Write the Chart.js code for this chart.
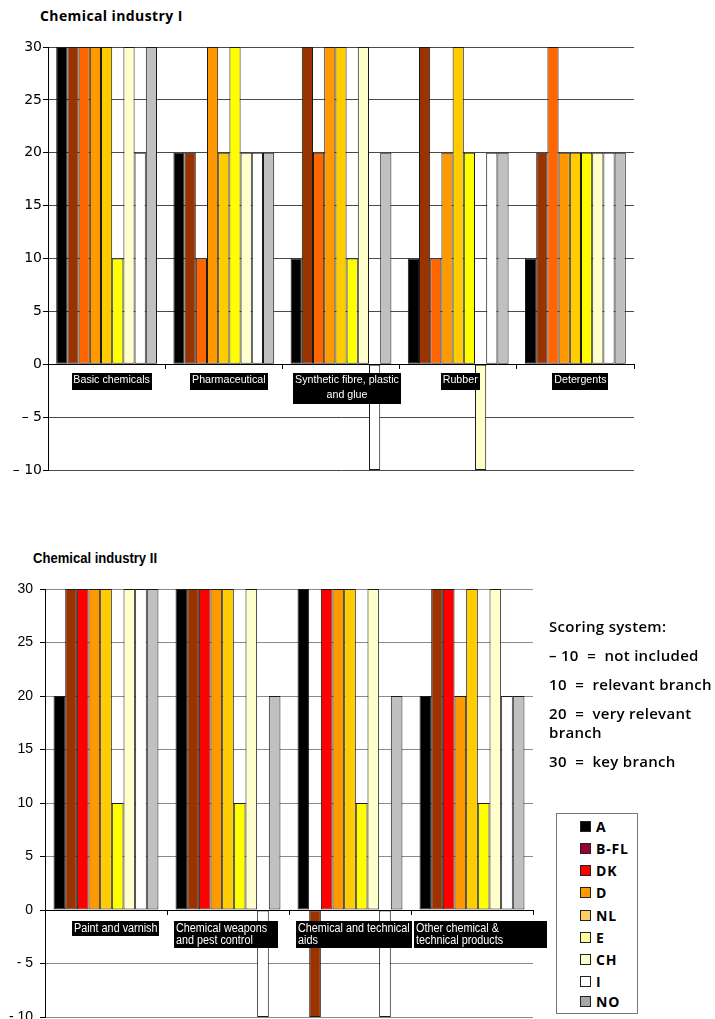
<!DOCTYPE html>
<html>
<head>
<meta charset="utf-8">
<script src="https://cdn.jsdelivr.net/npm/chart.js@4.4.1/dist/chart.umd.min.js"></script>
<style>
  html, body { margin: 0; padding: 0; background: #fff; width: 715px; height: 1019px; overflow: hidden; }
  .box { position: absolute; left: 0; }
  #wrap1 { top: 0; width: 715px; height: 490px; }
  #wrap2 { top: 540px; width: 715px; height: 500px; }
  .title { position: absolute; font-weight: 700; color: #000; white-space: nowrap; transform-origin: 0 0; }
  #title1 { left: 40px; top: 6px; font-family: "Open Sans", sans-serif; font-size: 14px; letter-spacing: 0.4px; }
  #title2 { left: 33px; top: 549px; font-family: "Liberation Sans", sans-serif; font-size: 15px; transform: scaleX(0.87); }
  #scoring { position: absolute; left: 549px; top: 0; font-family: "Open Sans", sans-serif; font-weight: 600; font-size: 15px; color: #000; }
  #scoring div { position: absolute; left: 0; white-space: pre; line-height: 19px; letter-spacing: 0.3px; }
  #legend { position: absolute; left: 556px; top: 813px; width: 80px; height: 199px; border: 1px solid #777; background: #fff; }
  .item { position: absolute; left: 23px; font-family: "Open Sans", sans-serif; font-weight: 700; font-size: 14px; line-height: 16px; letter-spacing: 0.8px; white-space: nowrap; }
  .swatch { display: inline-block; width: 9px; height: 9px; border: 1px solid #222; margin-right: 5px; vertical-align: 0px; }
</style>
</head>
<body>
<div class="title" id="title1">Chemical industry I</div>
<div class="box" id="wrap1"><canvas id="chart1" width="715" height="490"></canvas></div>
<div class="title" id="title2">Chemical industry II</div>
<div class="box" id="wrap2"><canvas id="chart2" width="715" height="500"></canvas></div>
<div id="scoring"></div>
<div id="legend"></div>
<script>
// Countries scored per industry branch
const SERIES = ['A', 'B-FL', 'DK', 'D', 'NL', 'E', 'CH', 'I', 'NO'];

// Chemical industry I
const CATEGORIES_I = ['Basic chemicals', 'Pharmaceutical', ['Synthetic fibre, plastic', 'and glue'], 'Rubber', 'Detergents'];
const A_I    = [30, 20, 10, 10, 10];
const BFL_I  = [30, 20, 30, 30, 20];
const DK_I   = [30, 10, 20, 10, 30];
const D_I    = [30, 30, 30, 20, 20];
const NL_I   = [30, 20, 30, 30, 20];
const E_I    = [10, 30, 10, 20, 20];
const CH_I   = [30, 20, 30, -10, 20];
const I_I    = [20, 20, -10, 20, 20];
const NO_I   = [30, 20, 20, 20, 20];

// Chemical industry II
const CATEGORIES_II = ['Paint and varnish', ['Chemical weapons', 'and pest control'], ['Chemical and technical', 'aids'], ['Other chemical &', 'technical products']];
const A_II   = [20, 30, 30, 20];
const BFL_II = [30, 30, -10, 30];
const DK_II  = [30, 30, 30, 30];
const D_II   = [30, 30, 30, 20];
const NL_II  = [30, 30, 30, 30];
const E_II   = [10, 10, 10, 10];
const CH_II  = [30, 30, 30, 30];
const I_II   = [30, -10, -10, 20];
const NO_II  = [30, 20, 20, 20];

// Score axis
const Y_MIN = -10, Y_MAX = 30, Y_STEP = 5;

// Bar fills
const COLORS_I  = ['#000000', '#993300', '#FF6600', '#FF9900', '#FFCC00', '#FFFF00', '#FFFFCC', '#FFFFFF', '#C0C0C0'];
const COLORS_II = ['#000000', '#993300', '#FF0000', '#FF9900', '#FFCC00', '#FFFF00', '#FFFFCC', '#FFFFFF', '#C0C0C0'];
const LEGEND_COLORS = ['#000000', '#990033', '#FF0000', '#FF9900', '#FFCC66', '#FFFF99', '#FFFFCC', '#FFFFFF', '#A6A6A6'];

const SCORING = [
  ['Scoring system:'],
  ['\u2013 10  =  not included'],
  ['10  =  relevant branch'],
  ['20  =  very relevant', 'branch'],
  ['30  =  key branch']
];

const VALUES_I  = [A_I, BFL_I, DK_I, D_I, NL_I, E_I, CH_I, I_I, NO_I];
const VALUES_II = [A_II, BFL_II, DK_II, D_II, NL_II, E_II, CH_II, I_II, NO_II];

// Category names in black boxes, hung just below the zero line
const categoryBoxes = {
  id: 'categoryBoxes',
  afterDatasetsDraw(chart, args, opts) {
    const { ctx } = chart;
    const xs = chart.scales.x, ys = chart.scales.y;
    const y0 = ys.getPixelForValue(0);
    ctx.save();
    ctx.font = opts.size + 'px ' + opts.family;
    ctx.textBaseline = 'top';
    chart.data.labels.forEach((label, i) => {
      const lines = Array.isArray(label) ? label : [label];
      const widths = lines.map(l => ctx.measureText(l).width * opts.squeeze);
      const minW = opts.minW ? opts.minW[i] : 0;
      const w = Math.round(Math.max(Math.max(...widths) + opts.padX * 2, minW));
      const h = Math.round(lines.length * opts.lineHeight + opts.padY * 2);
      const cx = xs.getPixelForValue(i) + (opts.dx[i] || 0);
      const left = Math.round(cx - w / 2);
      const top = Math.round(y0 + opts.gap);
      ctx.fillStyle = '#000';
      ctx.fillRect(left, top, w, h);
      ctx.fillStyle = '#fff';
      lines.forEach((line, j) => {
        const tx = opts.align === 'left' ? left + opts.padX : cx - widths[j] / 2;
        ctx.save();
        ctx.translate(tx, top + opts.padY + j * opts.lineHeight + opts.textDy);
        ctx.scale(opts.squeeze, 1);
        ctx.fillText(line, 0, 0);
        ctx.restore();
      });
    });
    ctx.restore();
  }
};

function datasets(values, colors) {
  return SERIES.map((name, i) => ({
    label: name,
    data: values[i],
    backgroundColor: colors[i],
    borderColor: '#1a1a1a',
    borderWidth: 1,
    borderSkipped: false,
    barPercentage: 1,
    categoryPercentage: 0.86
  }));
}

function makeChart(canvasId, cfg) {
  const nCats = cfg.categories.length;
  return new Chart(document.getElementById(canvasId), {
    type: 'bar',
    data: { labels: cfg.categories, datasets: datasets(cfg.values, cfg.colors) },
    plugins: [categoryBoxes],
    options: {
      responsive: false,
      animation: false,
      layout: { padding: cfg.padding },
      plugins: {
        legend: { display: false },
        tooltip: { enabled: false },
        title: { display: false },
        categoryBoxes: cfg.boxes
      },
      scales: {
        x: {
          type: 'category',
          position: { y: 0 },
          offset: true,
          grid: {
            offset: true,
            drawOnChartArea: cfg.rightBorder,
            color: (ctx) => (cfg.rightBorder && ctx.index === nCats) ? '#8a8a8a' : 'rgba(0,0,0,0)',
            tickColor: '#000',
            tickLength: 4
          },
          border: { display: true, color: '#000', width: 1 },
          ticks: { display: false }
        },
        y: {
          min: Y_MIN,
          max: Y_MAX,
          afterFit: (scale) => { scale.width = cfg.axisWidth; },
          grid: { color: cfg.gridColor, tickColor: '#000', tickLength: 5, lineWidth: 1 },
          border: { display: true, color: '#000', width: 1 },
          ticks: {
            stepSize: Y_STEP,
            color: '#000',
            padding: cfg.yPad,
            font: cfg.yFont,
            callback: (v) => v < 0 ? cfg.minus + ' ' + Math.abs(v) : String(v)
          }
        }
      }
    }
  });
}

makeChart('chart1', {
  categories: CATEGORIES_I,
  values: VALUES_I,
  colors: COLORS_I,
  padding: { top: 47, left: 0, right: 81, bottom: 20 },
  axisWidth: 48,
  gridColor: '#4a4a4a',
  rightBorder: false,
  yPad: 1,
  yFont: { family: '"DejaVu Sans", sans-serif', size: 14 },
  minus: '\u2013',
  boxes: {
    family: '"Liberation Sans", sans-serif', size: 11, squeeze: 0.97,
    padX: 2, padY: 1, lineHeight: 14.5, textDy: 0.5, gap: 9, align: 'center',
    dx: [5, 5, 6, 2, 5]
  }
});

makeChart('chart2', {
  categories: CATEGORIES_II,
  values: VALUES_II,
  colors: COLORS_II,
  padding: { top: 49, left: 0, right: 182, bottom: 23 },
  axisWidth: 45,
  gridColor: '#8a8a8a',
  rightBorder: true,
  yPad: 7,
  yFont: { family: '"Liberation Sans", sans-serif', size: 14 },
  minus: '-',
  boxes: {
    family: '"Liberation Sans", sans-serif', size: 12, squeeze: 0.9,
    padX: 2, padY: 1, lineHeight: 12.5, textDy: 0.5, gap: 11, align: 'left',
    dx: [9, -2, 4, 8], minW: [85, 104, 116, 133]
  }
});

// Scoring notes
const scoringTops = [617, 646, 675, 704, 752];
const scoring = document.getElementById('scoring');
SCORING.forEach((lines, i) => {
  const d = document.createElement('div');
  d.style.top = scoringTops[i] + 'px';
  d.textContent = lines.join('\n');
  scoring.appendChild(d);
});

// Legend box
const legend = document.getElementById('legend');
const legendTops = [5, 27, 49, 71, 94, 116, 138, 160, 180];
SERIES.forEach((name, i) => {
  const row = document.createElement('div');
  row.className = 'item';
  row.style.top = legendTops[i] + 'px';
  const sw = document.createElement('span');
  sw.className = 'swatch';
  sw.style.background = LEGEND_COLORS[i];
  row.appendChild(sw);
  row.appendChild(document.createTextNode(name));
  legend.appendChild(row);
});
</script>
</body>
</html>
